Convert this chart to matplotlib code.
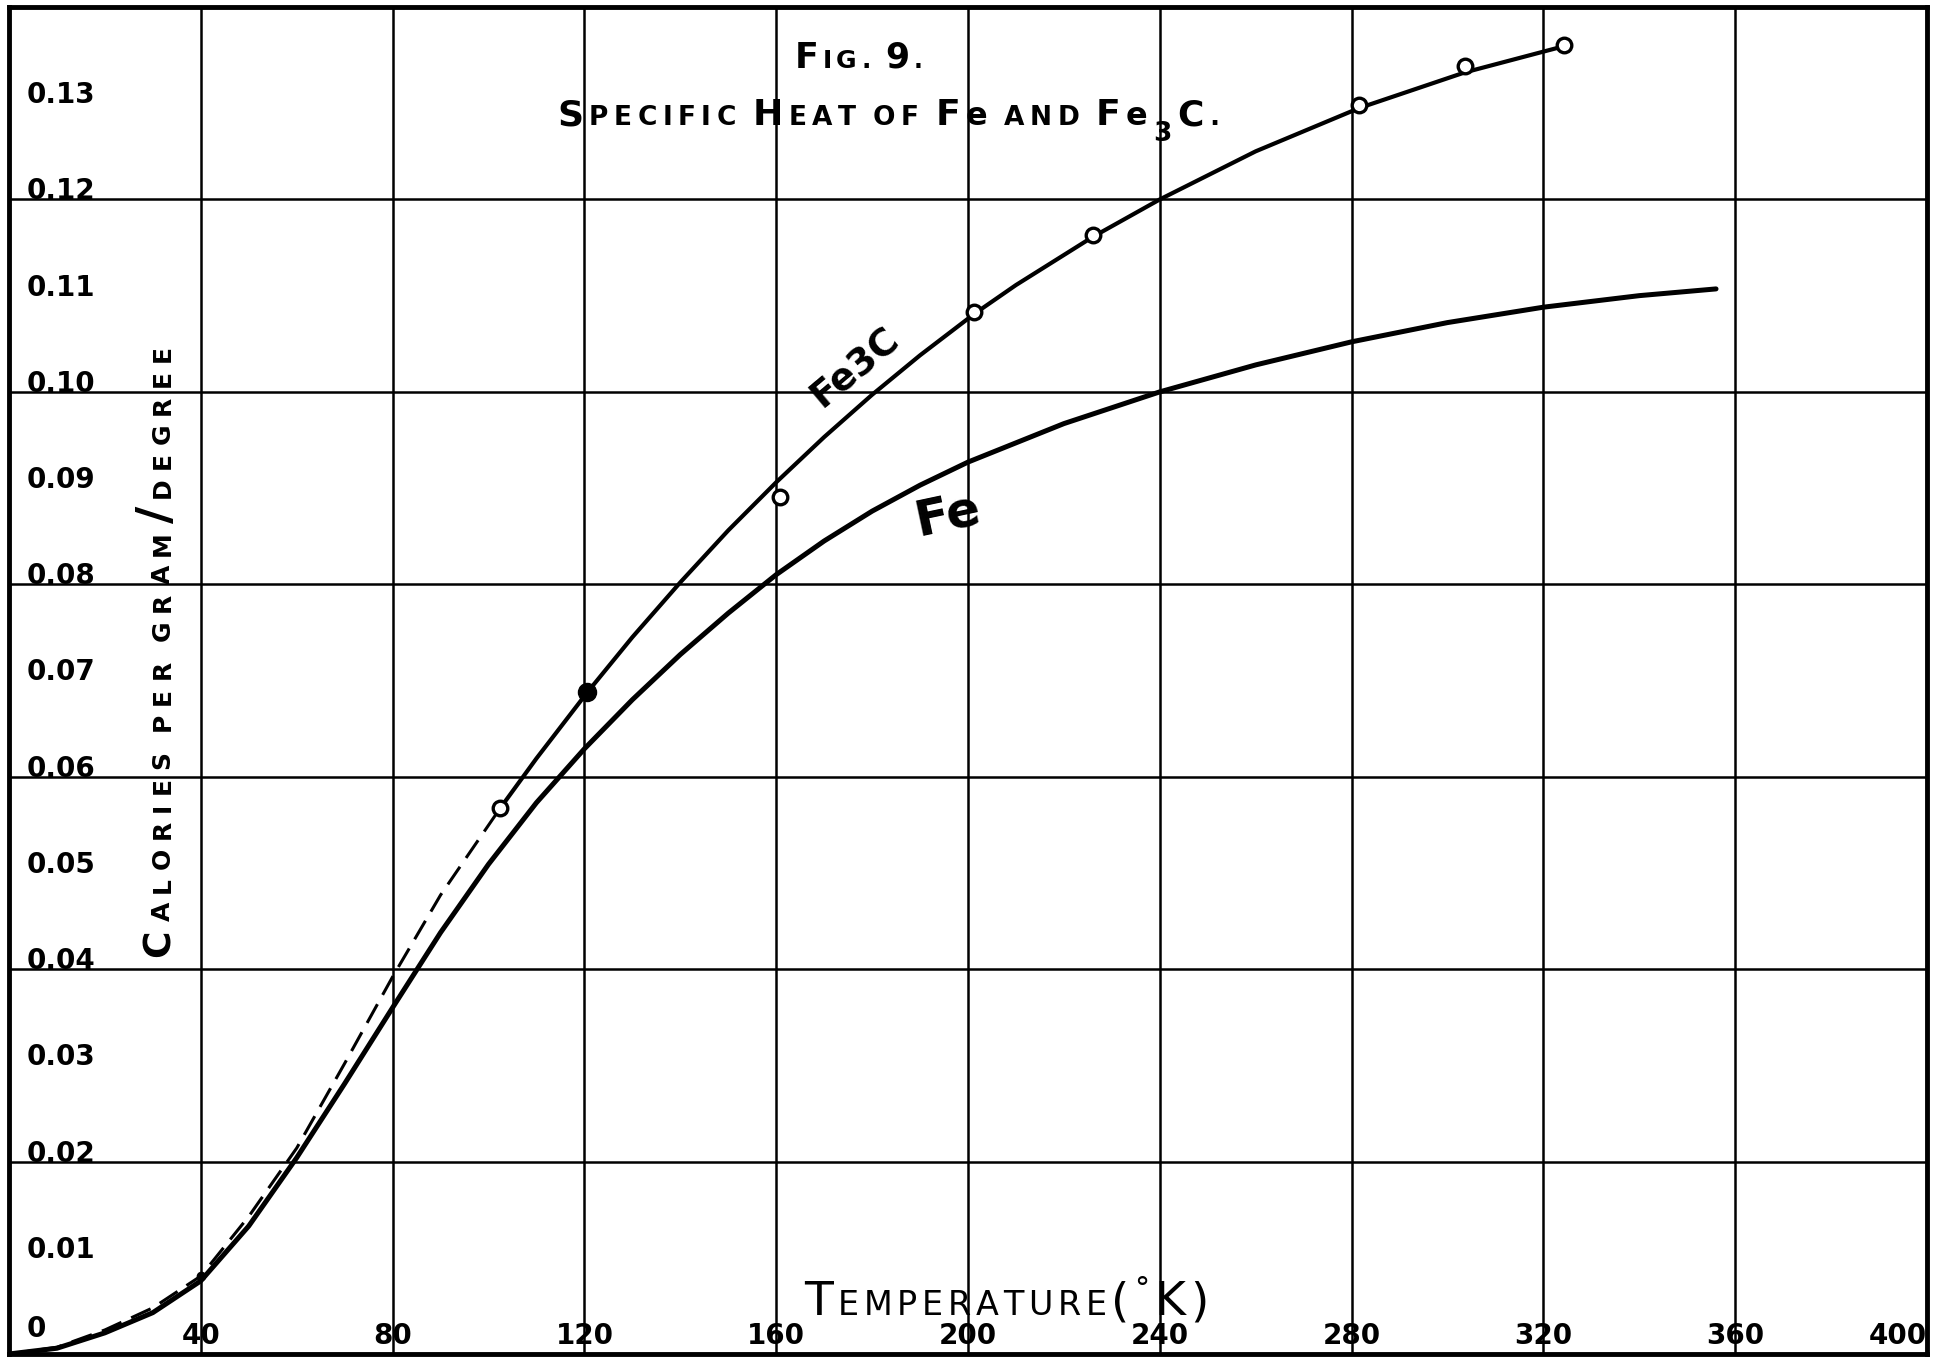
import numpy as np
import matplotlib
matplotlib.use('Agg')
import matplotlib.pyplot as plt
from matplotlib.transforms import IdentityTransform

# values (temperature in K, calories per gram per degree)
fe_temp = [0, 10, 20, 30, 40, 50, 60, 70, 80, 90, 100, 110, 120, 130, 140, 150,
           160, 170, 180, 190, 200, 220, 240, 260, 280, 300, 320, 340, 356]
fe_heat = [0, 0.0006, 0.0022, 0.0043, 0.0076, 0.0133, 0.0204, 0.0281, 0.0360, 0.0438,
           0.0509, 0.0573, 0.0629, 0.0680, 0.0727, 0.0770, 0.0810, 0.0845, 0.0876,
           0.0903, 0.0927, 0.0967, 0.1000, 0.1028, 0.1052, 0.1072, 0.1088, 0.1100, 0.1107]

# Fe3C: dashed part below the first measured point, then the solid curve
fe3c_dash_temp = [0, 10, 20, 30, 40, 50, 60, 70, 80, 90, 102.4]
fe3c_dash_heat = [0, 0.0007, 0.0025, 0.0048, 0.0081, 0.0143, 0.0214, 0.0302, 0.0392,
                  0.0477, 0.0567]
fe3c_temp = [102.4, 110, 120.5, 130, 140, 150, 160, 170, 180, 190, 201.3, 210, 226,
             240, 260, 281.6, 303.6, 325.6]
fe3c_heat = [0.0567, 0.0619, 0.0687, 0.0745, 0.0802, 0.0856, 0.0906, 0.0953, 0.0997,
             0.1038, 0.1081, 0.1111, 0.1161, 0.1200, 0.1250, 0.1295, 0.1332, 0.1361]

# measured points
open_temp = [102.4, 160.7, 201.3, 226.0, 281.6, 303.6, 324.3]
open_heat = [0.0567, 0.0891, 0.1083, 0.1163, 0.1298, 0.1339, 0.1360]
solid_temp = [120.5]
solid_heat = [0.0688]
dot_temp = [40]
dot_heat = [0.0081]

x_ticks = [40, 80, 120, 160, 200, 240, 280, 320, 360, 400]
y_ticks = [0, 0.01, 0.02, 0.03, 0.04, 0.05, 0.06, 0.07, 0.08, 0.09, 0.10, 0.11, 0.12, 0.13]
y_labels = ['0', '0.01', '0.02', '0.03', '0.04', '0.05', '0.06', '0.07', '0.08',
            '0.09', '0.10', '0.11', '0.12', '0.13']

fig = plt.figure(figsize=(19.42, 13.61), dpi=100)
ax = fig.add_axes([9 / 1942, 7 / 1361, 1918 / 1942, 1347 / 1361])
ax.set_xlim(0, 400)
ax.set_ylim(0, 0.14)
ax.set_xticks(x_ticks[:-1])
ax.set_yticks([0.02, 0.04, 0.06, 0.08, 0.10, 0.12])
ax.grid(True, color='black', lw=1.8)
ax.tick_params(length=0, labelbottom=False, labelleft=False)
for s in ax.spines.values():
    s.set_linewidth(3.5)

ax.plot(fe_temp, fe_heat, color='black', lw=3.6, solid_capstyle='round',
        solid_joinstyle='round')
ax.plot(fe3c_dash_temp, fe3c_dash_heat, color='black', lw=2.2, ls=(0, (7, 3.5)))
ax.plot(fe3c_temp, fe3c_heat, color='black', lw=3.0, solid_capstyle='round',
        solid_joinstyle='round')
ax.plot(open_temp, open_heat, 'o', ms=10.5, mfc='white', mec='black', mew=2.4)
ax.plot(solid_temp, solid_heat, 'o', ms=13, color='black')
ax.plot(dot_temp, dot_heat, 'o', ms=6, color='black')

# tick labels sit inside the frame
for v, lab in zip(y_ticks, y_labels):
    ax.text(3.6, max(v, 0.0018), lab, fontsize=20, fontweight='bold',
            ha='left', va='baseline')
for v in x_ticks:
    ax.text(v, 0.0004, str(v), fontsize=20, fontweight='bold',
            ha='right' if v == 400 else 'center', va='bottom')

renderer = fig.canvas.get_renderer()
k = fig.dpi / 72


def letters(x, y, pieces, gap=2, space=8, vertical=False, weight='bold'):
    # hand-lettered small caps: each char placed after the previous one
    px, py = ax.transData.transform((x, y))
    for piece in pieces:
        text, size = piece[0], piece[1]
        shift = piece[2] if len(piece) > 2 else 0
        for ch in text:
            if ch == ' ':
                if vertical:
                    py += space * k
                else:
                    px += space * k
                continue
            if vertical:
                t = ax.text(px - shift * k, py, ch, transform=IdentityTransform(),
                            rotation=90, rotation_mode='anchor', ha='left',
                            va='baseline', fontsize=size, fontweight=weight)
                py = t.get_window_extent(renderer).y1 + gap * k
            else:
                t = ax.text(px, py + shift * k, ch, transform=IdentityTransform(),
                            ha='left', va='baseline', fontsize=size, fontweight=weight)
                px = t.get_window_extent(renderer).x1 + gap * k


letters(163.9, 0.1337, [('F', 25), ('IG.', 18), (' ', 17), ('9', 25), ('.', 17)], gap=3)
letters(114.3, 0.1277, [('S', 26), ('PECIFIC', 19), (' ', 17), ('H', 26), ('EAT OF', 19),
                        (' ', 17), ('F', 26), ('e', 23), (' AND ', 19), ('F', 26), ('e', 23),
                        ('3', 19, -11), ('C', 26), ('.', 19)], gap=4)
letters(165.8, 0.00405, [('T', 34), ('EMPERATURE', 24), ('(', 34), ('°', 22, 12),
                         ('K', 34), (')', 34)], gap=3.4, weight='normal')
letters(33.5, 0.0413, [('C', 27), ('ALORIES', 18), (' ', 18), ('PER', 18), (' ', 18),
                       ('GRAM', 18), ('/', 34), ('DEGREE', 18)], gap=6, vertical=True)

ax.text(176.4, 0.1025, 'Fe3C', fontsize=27, fontweight='bold', rotation=40,
        ha='center', va='center')
ax.text(195.8, 0.0872, 'Fe', fontsize=36, fontweight='bold', rotation=12,
        ha='center', va='center')

fig.savefig('out.png', dpi=100)
